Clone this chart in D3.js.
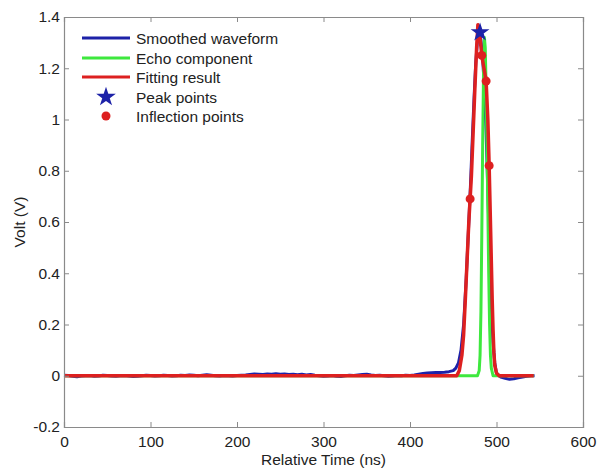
<!DOCTYPE html>
<html>
<head>
<meta charset="utf-8">
<script src="https://cdn.jsdelivr.net/npm/d3@7"></script>
<style>
  html, body { margin: 0; padding: 0; background: #fff; }
  svg { display: block; font-family: Arial, "Liberation Sans", sans-serif; }
</style>
</head>
<body>
<svg id="chart" width="598" height="468"></svg>
<script>
// ---------------- DATA ----------------
const xTicks = [0, 100, 200, 300, 400, 500, 600];
const yTicks = [-0.2, 0, 0.2, 0.4, 0.6, 0.8, 1, 1.2, 1.4];
const yTickLabels = ["-0.2", "0", "0.2", "0.4", "0.6", "0.8", "1", "1.2", "1.4"];

const legendLabels = ["Smoothed waveform", "Echo component", "Fitting result", "Peak points", "Inflection points"];

// Smoothed waveform (blue)
const smoothedTime = [
  0,5,10,15,20,25,30,35,40,45,50,55,60,65,70,75,80,85,90,95,
  100,105,110,115,120,125,130,135,140,145,150,155,160,165,170,175,180,185,190,195,
  200,205,210,215,220,225,230,235,240,245,250,255,260,265,270,275,280,285,290,295,
  300,305,310,315,320,325,330,335,340,345,350,355,360,365,370,375,380,385,390,395,
  400,405,410,415,420,425,430,435,440,445,450,453,456,459,462,465,468,470,472,474,
  476,478,480,482,484,486,488,490,492,494,496,498,500,505,510,515,520,525,530,535,540,544
];
const smoothedVolt = [
  0.002,0.001,-0.002,-0.004,-0.001,0.000,0.001,-0.002,-0.001,0.002,0.001,-0.001,-0.002,0.000,0.001,-0.001,-0.003,-0.002,0.000,0.002,
  0.001,-0.001,0.000,0.002,0.001,-0.001,0.000,0.002,0.001,0.003,0.002,0.000,0.002,0.004,0.002,0.000,-0.001,0.001,0.000,-0.001,
  0.001,0.002,0.003,0.005,0.007,0.006,0.005,0.007,0.006,0.008,0.006,0.007,0.005,0.006,0.004,0.006,0.003,0.005,0.002,0.000,
  -0.002,-0.001,0.001,-0.002,-0.003,0.000,0.002,0.001,0.003,0.005,0.006,0.003,0.001,0.002,0.000,-0.002,-0.001,0.001,0.000,0.002,
  0.001,0.003,0.006,0.009,0.011,0.012,0.013,0.013,0.014,0.016,0.020,0.030,0.050,0.100,0.200,0.380,0.600,0.750,0.920,1.080,
  1.220,1.310,1.340,1.310,1.240,1.120,0.950,0.720,0.480,0.280,0.130,0.050,0.010,-0.005,-0.010,-0.014,-0.012,-0.008,-0.005,-0.002,0.000,0.000
];

// Echo component (green)
const echoTime = [0, 478, 480, 481, 482, 483, 484, 485, 486, 487, 488, 489, 490, 491, 492, 493, 494, 496, 543];
const echoVolt = [0, 0, 0.02, 0.08, 0.25, 0.55, 0.90, 1.18, 1.32, 1.28, 1.12, 0.90, 0.65, 0.40, 0.20, 0.08, 0.03, 0, 0];

// Fitting result (red)
const fitTime = [0, 454, 457, 460, 462, 464, 466, 468, 469.5, 471, 473, 475, 477, 478.5, 480, 481.5, 483, 485.5, 488, 490, 491.5, 493, 494, 495, 496, 497, 498, 500, 503, 543];
const fitVolt = [0, 0, 0.02, 0.08, 0.16, 0.30, 0.45, 0.60, 0.69, 0.78, 0.95, 1.12, 1.28, 1.37, 1.35, 1.30, 1.25, 1.20, 1.15, 1.00, 0.82, 0.60, 0.45, 0.30, 0.18, 0.09, 0.04, 0.01, 0, 0];

// Markers
const peakTime = [481];
const peakVolt = [1.34];
const inflectionTime = [469.5, 483, 488, 491.5];
const inflectionVolt = [0.69, 1.25, 1.15, 0.82];

// ---------------- CHART ----------------
const svg = d3.select("#chart");
const L = 64, R = 583, T = 17, B = 427;
const x = d3.scaleLinear().domain([0, 600]).range([L, R]);
const y = d3.scaleLinear().domain([-0.2, 1.4]).range([B, T]);

const axisColor = "#8a8a8a";
const textColor = "#222";
const fontSize = "15.5px";

const colBlue = "#1d22a8", colGreen = "#3ee83e", colRed = "#dd2020";

// plot background
svg.append("rect").attr("x", L).attr("y", T).attr("width", R - L).attr("height", B - T).attr("fill", "#fff");

const line = d3.line().x(d => x(d[0])).y(d => y(d[1]));
const zip = (a, b) => a.map((t, i) => [t, b[i]]);

const plot = svg.append("g");
plot.append("path").datum(zip(smoothedTime, smoothedVolt))
  .attr("d", line).attr("fill", "none").attr("stroke", colBlue).attr("stroke-width", 3).attr("stroke-linejoin", "round");
plot.append("path").datum(zip(echoTime, echoVolt))
  .attr("d", line).attr("fill", "none").attr("stroke", colGreen).attr("stroke-width", 3).attr("stroke-linejoin", "round");
plot.append("path").datum(zip(fitTime, fitVolt))
  .attr("d", line).attr("fill", "none").attr("stroke", colRed).attr("stroke-width", 3.5).attr("stroke-linejoin", "round");

const star = d3.symbol().type(d3.symbolStar).size(110);
plot.selectAll(".peak").data(zip(peakTime, peakVolt)).enter().append("path")
  .attr("d", star).attr("transform", d => `translate(${x(d[0])},${y(d[1])})`).attr("fill", colBlue);
plot.selectAll(".infl").data(zip(inflectionTime, inflectionVolt)).enter().append("circle")
  .attr("cx", d => x(d[0])).attr("cy", d => y(d[1])).attr("r", 4.5).attr("fill", colRed);

// axes
const gx = svg.append("g").attr("transform", `translate(0,${B})`)
  .call(d3.axisBottom(x).tickValues(xTicks).tickSize(-5).tickPadding(9).tickFormat(d3.format("d")));
const gxt = svg.append("g").attr("transform", `translate(0,${T})`)
  .call(d3.axisTop(x).tickValues(xTicks).tickSize(-5).tickFormat(""));
const gy = svg.append("g").attr("transform", `translate(${L},0)`)
  .call(d3.axisLeft(y).tickValues(yTicks).tickSize(-5).tickPadding(4).tickFormat((d, i) => yTickLabels[i]));
const gyr = svg.append("g").attr("transform", `translate(${R},0)`)
  .call(d3.axisRight(y).tickValues(yTicks).tickSize(-5).tickFormat(""));

[gx, gxt, gy, gyr].forEach(g => {
  g.select(".domain").attr("stroke", axisColor).attr("stroke-width", 1.2);
  g.selectAll(".tick line").attr("stroke", axisColor).attr("stroke-width", 1);
  g.selectAll(".tick text").attr("fill", textColor).style("font-size", fontSize).style("font-family", "Arial, 'Liberation Sans', sans-serif");
});

// axis labels
svg.append("text").attr("x", (L + R) / 2).attr("y", 465).attr("text-anchor", "middle")
  .attr("fill", textColor).style("font-size", fontSize).text("Relative Time (ns)");
svg.append("text").attr("transform", `translate(25,${(T + B) / 2}) rotate(-90)`).attr("text-anchor", "middle")
  .attr("fill", textColor).style("font-size", fontSize).text("Volt (V)");

// legend
const leg = svg.append("g");
const legY = [38, 58, 77, 97, 116];
const legColors = [colBlue, colGreen, colRed];
legendLabels.forEach((lab, i) => {
  const yy = legY[i];
  if (i < 3) {
    leg.append("line").attr("x1", 82).attr("x2", 130).attr("y1", yy).attr("y2", yy)
      .attr("stroke", legColors[i]).attr("stroke-width", 3);
  } else if (i === 3) {
    leg.append("path").attr("d", d3.symbol().type(d3.symbolStar).size(120)).attr("transform", `translate(106,${yy})`).attr("fill", colBlue);
  } else {
    leg.append("circle").attr("cx", 106).attr("cy", yy).attr("r", 4.5).attr("fill", colRed);
  }
  leg.append("text").attr("x", 136).attr("y", yy).attr("dy", "0.36em")
    .attr("fill", textColor).style("font-size", fontSize).text(lab);
});
</script>
</body>
</html>
